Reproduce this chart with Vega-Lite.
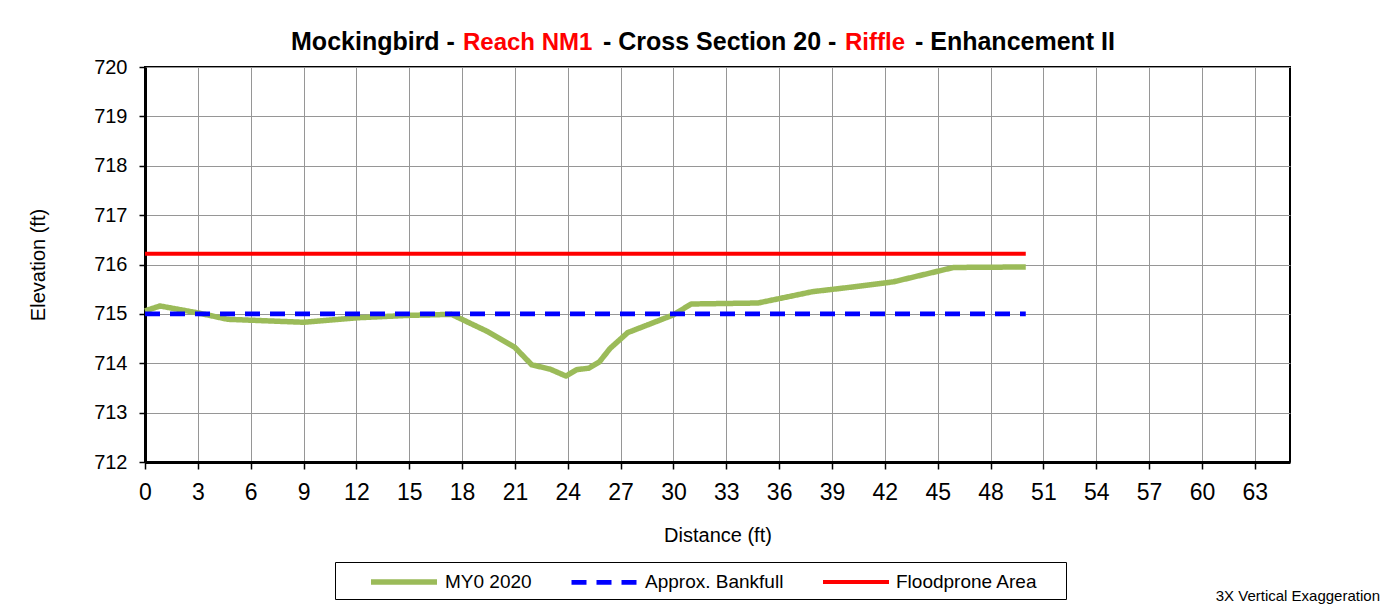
{
  "$schema": "https://vega.github.io/schema/vega-lite/v6.json",
  "width": 1145,
  "height": 395,
  "autosize": {"type": "none"},
  "padding": {"left": 145, "top": 67, "right": 94, "bottom": 151},
  "background": "white",
  "config": {
    "font": "Liberation Sans",
    "view": {"stroke": "black", "strokeWidth": 2},
    "axis": {
      "gridColor": "#969696",
      "gridWidth": 1,
      "domainColor": "black",
      "domainWidth": 3,
      "tickColor": "black",
      "tickWidth": 1.5,
      "labelColor": "black",
      "titleColor": "black",
      "labelFont": "Liberation Sans",
      "titleFont": "Liberation Sans",
      "titleFontWeight": "normal"
    }
  },
  "title": {
    "text": "3X Vertical Exaggeration",
    "orient": "bottom",
    "anchor": "end",
    "frame": "group",
    "fontSize": 15,
    "fontWeight": "normal",
    "font": "Liberation Sans",
    "color": "black",
    "dx": 90,
    "dy": -11,
    "offset": 0
  },
  "datasets": {
    "xs": [
      {"series": "MY0 2020", "d": 0, "z": 715.06},
      {"series": "MY0 2020", "d": 0.85, "z": 715.16},
      {"series": "MY0 2020", "d": 3, "z": 715.02},
      {"series": "MY0 2020", "d": 4.7, "z": 714.89},
      {"series": "MY0 2020", "d": 9, "z": 714.83},
      {"series": "MY0 2020", "d": 12, "z": 714.92},
      {"series": "MY0 2020", "d": 15, "z": 714.97},
      {"series": "MY0 2020", "d": 17.4, "z": 714.99},
      {"series": "MY0 2020", "d": 19.4, "z": 714.65},
      {"series": "MY0 2020", "d": 21, "z": 714.32},
      {"series": "MY0 2020", "d": 21.95, "z": 713.97},
      {"series": "MY0 2020", "d": 23, "z": 713.88},
      {"series": "MY0 2020", "d": 23.9, "z": 713.74},
      {"series": "MY0 2020", "d": 24.5, "z": 713.87},
      {"series": "MY0 2020", "d": 25.2, "z": 713.9},
      {"series": "MY0 2020", "d": 25.8, "z": 714.03},
      {"series": "MY0 2020", "d": 26.4, "z": 714.3},
      {"series": "MY0 2020", "d": 27.4, "z": 714.62},
      {"series": "MY0 2020", "d": 30, "z": 714.98},
      {"series": "MY0 2020", "d": 31, "z": 715.2},
      {"series": "MY0 2020", "d": 34.8, "z": 715.22},
      {"series": "MY0 2020", "d": 37.9, "z": 715.45},
      {"series": "MY0 2020", "d": 40.3, "z": 715.55},
      {"series": "MY0 2020", "d": 42.5, "z": 715.65},
      {"series": "MY0 2020", "d": 45.9, "z": 715.94},
      {"series": "MY0 2020", "d": 50, "z": 715.95},
      {"series": "Approx. Bankfull", "d": 0, "z": 715.0},
      {"series": "Approx. Bankfull", "d": 50, "z": 715.0},
      {"series": "Floodprone Area", "d": 0, "z": 716.22},
      {"series": "Floodprone Area", "d": 50, "z": 716.22}
    ]
  },
  "layer": [
    {
      "data": {"name": "xs"},
      "transform": [{"filter": "datum.series === 'MY0 2020'"}],
      "mark": {"type": "line", "strokeCap": "butt", "strokeJoin": "round"},
      "encoding": {
        "x": {
          "field": "d", "type": "quantitative",
          "scale": {"domain": [0, 65], "nice": false, "zero": false},
          "axis": {
            "title": "Distance (ft)",
            "values": [0, 3, 6, 9, 12, 15, 18, 21, 24, 27, 30, 33, 36, 39, 42, 45, 48, 51, 54, 57, 60, 63],
            "labelFontSize": 23, "titleFontSize": 20,
            "tickSize": 7, "labelPadding": 12, "titlePadding": 21,
            "labelFlush": false, "labelOverlap": false
          }
        },
        "y": {
          "field": "z", "type": "quantitative",
          "scale": {"domain": [712, 720], "nice": false, "zero": false},
          "axis": {
            "title": "Elevation (ft)",
            "values": [712, 713, 714, 715, 716, 717, 718, 719, 720],
            "format": "d",
            "labelFontSize": 20, "titleFontSize": 20,
            "tickSize": 6, "labelPadding": 12, "titlePadding": 45
          }
        },
        "color": {
          "field": "series", "type": "nominal",
          "scale": {"domain": ["MY0 2020", "Approx. Bankfull", "Floodprone Area"], "range": ["#9BBB59", "#0000FF", "#FF0000"]},
          "legend": {
            "title": "\u00a0",
            "titleOrient": "right",
            "titlePadding": 22,
            "titleFontSize": 6,
            "orient": "none",
            "legendX": 190,
            "legendY": 495,
            "direction": "horizontal",
            "padding": 6,
            "strokeColor": "black",
            "fillColor": "white",
            "labelFontSize": 19,
            "labelFont": "Liberation Sans",
            "labelColor": "black",
            "symbolType": "M-3,0H3",
            "symbolSize": 484,
            "symbolOffset": 49,
            "labelOffset": 27,
            "columnPadding": 10
          }
        },
        "strokeDash": {
          "field": "series", "type": "nominal",
          "scale": {"domain": ["MY0 2020", "Approx. Bankfull", "Floodprone Area"], "range": [[1, 0], [15, 10], [1, 0]]},
          "legend": null
        },
        "strokeWidth": {
          "field": "series", "type": "nominal",
          "scale": {"domain": ["MY0 2020", "Approx. Bankfull", "Floodprone Area"], "range": [5.5, 4, 2.5]},
          "legend": null
        }
      }
    },
    {
      "data": {"name": "xs"},
      "transform": [{"filter": "datum.series === 'Approx. Bankfull'"}],
      "mark": {"type": "line", "strokeCap": "butt"},
      "encoding": {
        "x": {"field": "d", "type": "quantitative", "title": "Distance (ft)"},
        "y": {"field": "z", "type": "quantitative", "title": "Elevation (ft)"},
        "color": {"field": "series", "type": "nominal"},
        "strokeDash": {"field": "series", "type": "nominal"},
        "strokeWidth": {"field": "series", "type": "nominal"}
      }
    },
    {
      "data": {"name": "xs"},
      "transform": [{"filter": "datum.series === 'Floodprone Area'"}],
      "mark": {"type": "line", "strokeCap": "butt"},
      "encoding": {
        "x": {"field": "d", "type": "quantitative", "title": "Distance (ft)"},
        "y": {"field": "z", "type": "quantitative", "title": "Elevation (ft)"},
        "color": {"field": "series", "type": "nominal"},
        "strokeDash": {"field": "series", "type": "nominal"},
        "strokeWidth": {"field": "series", "type": "nominal"}
      }
    },
    {
      "data": {"values": [{}]},
      "mark": {"type": "text", "text": "Mockingbird -", "fontSize": 25, "fontWeight": "bold", "align": "left", "baseline": "alphabetic", "dy": -17.5, "color": "black"},
      "encoding": {"x": {"datum": 8.29}, "y": {"datum": 720}}
    },
    {
      "data": {"values": [{}]},
      "mark": {"type": "text", "text": "Reach NM1", "fontSize": 24, "fontWeight": "bold", "align": "left", "baseline": "alphabetic", "dy": -17.5, "color": "#FF0000"},
      "encoding": {"x": {"datum": 18.05}, "y": {"datum": 720}}
    },
    {
      "data": {"values": [{}]},
      "mark": {"type": "text", "text": "- Cross Section 20 -", "fontSize": 25, "fontWeight": "bold", "align": "left", "baseline": "alphabetic", "dy": -17.5, "color": "black"},
      "encoding": {"x": {"datum": 26.0}, "y": {"datum": 720}}
    },
    {
      "data": {"values": [{}]},
      "mark": {"type": "text", "text": "Riffle", "fontSize": 24, "fontWeight": "bold", "align": "left", "baseline": "alphabetic", "dy": -17.5, "color": "#FF0000"},
      "encoding": {"x": {"datum": 39.74}, "y": {"datum": 720}}
    },
    {
      "data": {"values": [{}]},
      "mark": {"type": "text", "text": "- Enhancement II", "fontSize": 25, "fontWeight": "bold", "align": "left", "baseline": "alphabetic", "dy": -17.5, "color": "black"},
      "encoding": {"x": {"datum": 43.71}, "y": {"datum": 720}}
    }
  ]
}
